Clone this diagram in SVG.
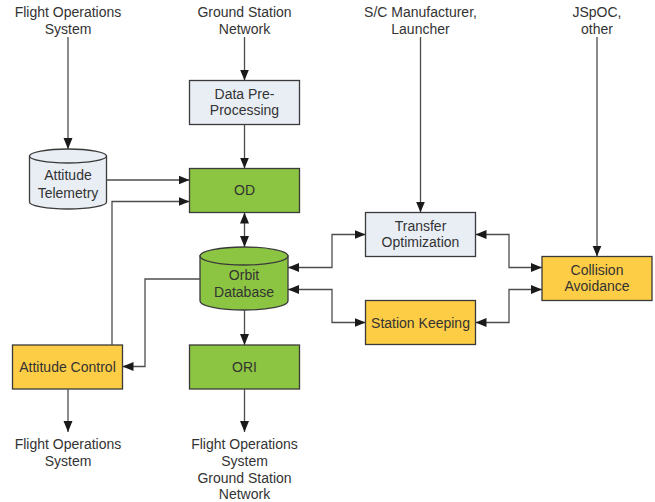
<svg xmlns="http://www.w3.org/2000/svg" width="655" height="502" viewBox="0 0 655 502">
  <style>
    text { font-family: "Liberation Sans", Arial, sans-serif; font-size: 14px; fill: #333; text-anchor: middle; }
    .box { stroke: #3a3a3a; stroke-width: 1.3; }
    .blue { fill: #e9eef5; }
    .green { fill: #8cc541; }
    .yellow { fill: #fdcd45; }
    .conn { fill: none; stroke: #4d4d4d; stroke-width: 1.3; }
  </style>
  <defs>
    <marker id="arrow" markerUnits="userSpaceOnUse" markerWidth="12" markerHeight="10" refX="11" refY="5" orient="auto-start-reverse">
      <path d="M0,0.5 L11,5 L0,9.5 Z" fill="#1a1a1a"/>
    </marker>
  </defs>

  <rect width="655" height="502" fill="#fff"/>

  <!-- external sources and sinks -->
  <g id="src-fos">
    <text x="68" y="17">Flight Operations</text>
    <text x="68" y="34">System</text>
  </g>
  <g id="src-gsn">
    <text x="244.5" y="17">Ground Station</text>
    <text x="244.5" y="34">Network</text>
  </g>
  <g id="src-sc">
    <text x="420.5" y="17">S/C Manufacturer,</text>
    <text x="420.5" y="34">Launcher</text>
  </g>
  <g id="src-jspoc">
    <text x="597" y="17">JSpOC,</text>
    <text x="597" y="34">other</text>
  </g>
  <g id="sink-fos">
    <text x="68" y="449">Flight Operations</text>
    <text x="68" y="466">System</text>
  </g>
  <g id="sink-ori">
    <text x="244.5" y="449">Flight Operations</text>
    <text x="244.5" y="466">System</text>
    <text x="244.5" y="482.5">Ground Station</text>
    <text x="244.5" y="499">Network</text>
  </g>

  <!-- processing nodes -->
  <g id="data-preprocessing">
    <rect class="box blue" x="189.5" y="80.5" width="110" height="44"/>
    <text x="244.5" y="98.5">Data Pre-</text>
    <text x="244.5" y="115">Processing</text>
  </g>
  <g id="od">
    <rect class="box green" x="189.5" y="168.5" width="110" height="44"/>
    <text x="244.5" y="195">OD</text>
  </g>
  <g id="attitude-telemetry">
    <path class="box blue" d="M29.5,156 V202 A38.5,7 0 0 0 106.5,202 V156 Z"/>
    <ellipse class="box blue" cx="68" cy="156" rx="38.5" ry="7"/>
    <text x="68" y="180">Attitude</text>
    <text x="68" y="197.5">Telemetry</text>
  </g>
  <g id="orbit-database">
    <path class="box green" d="M200,256 V301 A44,9 0 0 0 288,301 V256 Z"/>
    <ellipse class="box green" cx="244" cy="256" rx="44" ry="9"/>
    <text x="244" y="280">Orbit</text>
    <text x="244" y="296.5">Database</text>
  </g>
  <g id="transfer-optimization">
    <rect class="box blue" x="365.5" y="212.5" width="110" height="44"/>
    <text x="420.5" y="231">Transfer</text>
    <text x="420.5" y="247">Optimization</text>
  </g>
  <g id="station-keeping">
    <rect class="box yellow" x="365.5" y="300.5" width="110" height="44"/>
    <text x="420.5" y="327.5">Station Keeping</text>
  </g>
  <g id="collision-avoidance">
    <rect class="box yellow" x="542" y="256.5" width="110" height="44"/>
    <text x="597" y="275">Collision</text>
    <text x="597" y="291">Avoidance</text>
  </g>
  <g id="attitude-control">
    <rect class="box yellow" x="12.5" y="345" width="110" height="44"/>
    <text x="67.5" y="371.5">Attitude Control</text>
  </g>
  <g id="ori">
    <rect class="box green" x="189.5" y="345" width="110" height="44"/>
    <text x="244.5" y="371.5">ORI</text>
  </g>

  <!-- connectors -->
  <g id="connectors">
    <path class="conn" d="M68,37 V149" marker-end="url(#arrow)"/>
    <path class="conn" d="M244.5,37 V80.5" marker-end="url(#arrow)"/>
    <path class="conn" d="M244.5,124.5 V168.5" marker-end="url(#arrow)"/>
    <path class="conn" d="M106.5,180 H189.5" marker-end="url(#arrow)"/>
    <path class="conn" d="M112,345 V201.5 H189.5" marker-end="url(#arrow)"/>
    <path class="conn" d="M244.5,212.5 V247" marker-start="url(#arrow)" marker-end="url(#arrow)"/>
    <path class="conn" d="M200,279 H145 V366.5 H122.5" marker-end="url(#arrow)"/>
    <path class="conn" d="M244.5,310 V345" marker-end="url(#arrow)"/>
    <path class="conn" d="M68,389 V432" marker-end="url(#arrow)"/>
    <path class="conn" d="M244.5,389 V432" marker-end="url(#arrow)"/>
    <path class="conn" d="M420.5,37 V212.5" marker-end="url(#arrow)"/>
    <path class="conn" d="M597,37 V256.5" marker-end="url(#arrow)"/>
    <path class="conn" d="M288,267.5 H332 V234.5 H365.5" marker-start="url(#arrow)" marker-end="url(#arrow)"/>
    <path class="conn" d="M288,289.5 H332 V322.5 H365.5" marker-start="url(#arrow)" marker-end="url(#arrow)"/>
    <path class="conn" d="M475.5,234.5 H509 V267.5 H542" marker-start="url(#arrow)" marker-end="url(#arrow)"/>
    <path class="conn" d="M475.5,322.5 H509 V289.5 H542" marker-start="url(#arrow)" marker-end="url(#arrow)"/>
  </g>
</svg>
